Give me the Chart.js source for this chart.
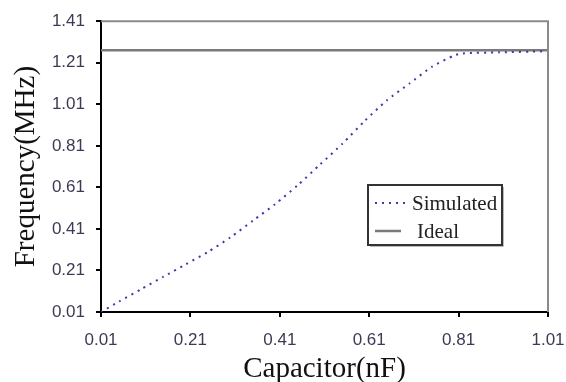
<!DOCTYPE html>
<html>
<head>
<meta charset="utf-8">
<script src="https://cdn.jsdelivr.net/npm/chart.js@4"></script>
<style>
  html, body { margin: 0; padding: 0; background: #fff; }
  #wrap { width: 566px; height: 382px; }
</style>
</head>
<body>
<div id="wrap"><canvas id="chart" width="566" height="382"></canvas></div>
<script>
// === Data ===
const simX = [0.01, 0.05, 0.10, 0.15, 0.20, 0.25, 0.30, 0.35, 0.40, 0.45, 0.50, 0.55, 0.60, 0.65, 0.70, 0.75, 0.80, 0.82, 0.90, 1.00];
const simY = [0.01, 0.06, 0.12, 0.18, 0.24, 0.30, 0.37, 0.45, 0.53, 0.62, 0.72, 0.82, 0.93, 1.03, 1.11, 1.19, 1.245, 1.255, 1.26, 1.265];
const idealX = [0.01, 1.01];
const idealY = [1.27, 1.27];
const xTicks = [0.01, 0.21, 0.41, 0.61, 0.81, 1.01];
const yTicks = [0.01, 0.21, 0.41, 0.61, 0.81, 1.01, 1.21, 1.41];

const toPoints = (xs, ys) => xs.map((x, i) => ({ x: x, y: ys[i] }));

// grey top/right frame + legend box inside the plot
const framePlugin = {
    id: "frame",
    afterDatasetsDraw(chart) {
        const ctx = chart.ctx;
        const a = chart.chartArea;
        ctx.save();
        ctx.strokeStyle = "#8a8a8a";
        ctx.lineWidth = 2;
        ctx.beginPath();
        ctx.moveTo(a.left, a.top);
        ctx.lineTo(a.right, a.top);
        ctx.lineTo(a.right, a.bottom);
        ctx.stroke();

        // legend
        const bx = 368, by = 185, bw = 134, bh = 60;
        ctx.fillStyle = "#fff";
        ctx.fillRect(bx, by, bw, bh);
        ctx.strokeStyle = "#333";
        ctx.lineWidth = 2;
        ctx.strokeRect(bx, by, bw, bh);
        ctx.strokeStyle = "#bbb";
        ctx.lineWidth = 1;
        ctx.beginPath();
        ctx.moveTo(bx + 2, by + bh + 1.5);
        ctx.lineTo(bx + bw + 1.5, by + bh + 1.5);
        ctx.lineTo(bx + bw + 1.5, by + 2);
        ctx.stroke();

        const rows = chart.data.datasets;
        const rowY = [203, 231];
        const textX = [412, 417];
        ctx.font = "21px 'Liberation Serif', 'Times New Roman', serif";
        ctx.textBaseline = "middle";
        rows.forEach((ds, i) => {
            ctx.strokeStyle = ds.borderColor;
            ctx.lineWidth = ds.borderWidth;
            ctx.setLineDash(ds.borderDash || []);
            ctx.beginPath();
            ctx.moveTo(375, rowY[i]);
            ctx.lineTo(i === 0 ? 406 : 401, rowY[i]);
            ctx.stroke();
            ctx.setLineDash([]);
            ctx.fillStyle = "#222";
            ctx.fillText(ds.label, textX[i], rowY[i] + 1);
        });
        ctx.restore();
    }
};

new Chart(document.getElementById("chart"), {
    type: "line",
    data: {
        datasets: [
            {
                label: "Simulated",
                data: toPoints(simX, simY),
                borderColor: "#3a3aa8",
                borderWidth: 2,
                borderDash: [2, 5],
                pointRadius: 0,
                tension: 0.2,
                fill: false
            },
            {
                label: "Ideal",
                data: toPoints(idealX, idealY),
                borderColor: "#7a7a7a",
                borderWidth: 2.5,
                pointRadius: 0,
                fill: false
            }
        ]
    },
    options: {
        responsive: false,
        animation: false,
        layout: { padding: { top: 21, right: 18, left: 0, bottom: 0 } },
        plugins: {
            legend: { display: false },
            tooltip: { enabled: false }
        },
        scales: {
            x: {
                type: "linear",
                min: 0.01,
                max: 1.01,
                afterBuildTicks: s => { s.ticks = xTicks.map(v => ({ value: v })); },
                afterFit: s => { s.height = 70; s.paddingRight = 0; s.paddingLeft = 0; },
                border: { color: "#000", width: 2 },
                grid: { drawOnChartArea: false, tickLength: 5, color: "#000", lineWidth: 2 },
                ticks: {
                    padding: 13,
                    color: "#3b3b55",
                    font: { family: "'Liberation Sans', Arial, sans-serif", size: 17 },
                    callback: v => v.toFixed(2)
                },
                title: {
                    display: true,
                    text: "Capacitor(nF)",
                    color: "#111",
                    padding: { top: 0, bottom: -5 },
                    font: { family: "'Liberation Serif', 'Times New Roman', serif", size: 29 }
                }
            },
            y: {
                type: "linear",
                min: 0.01,
                max: 1.41,
                afterBuildTicks: s => { s.ticks = yTicks.map(v => ({ value: v })); },
                afterFit: s => { s.width = 101; },
                border: { color: "#000", width: 2 },
                grid: { drawOnChartArea: false, tickLength: 5, color: "#000", lineWidth: 2 },
                ticks: {
                    padding: 11,
                    color: "#3b3b55",
                    font: { family: "'Liberation Sans', Arial, sans-serif", size: 17 },
                    callback: v => v.toFixed(2)
                },
                title: {
                    display: true,
                    text: "Frequency(MHz)",
                    color: "#111",
                    padding: { top: 9, bottom: 0 },
                    font: { family: "'Liberation Serif', 'Times New Roman', serif", size: 29 }
                }
            }
        }
    },
    plugins: [framePlugin]
});
</script>
</body>
</html>
